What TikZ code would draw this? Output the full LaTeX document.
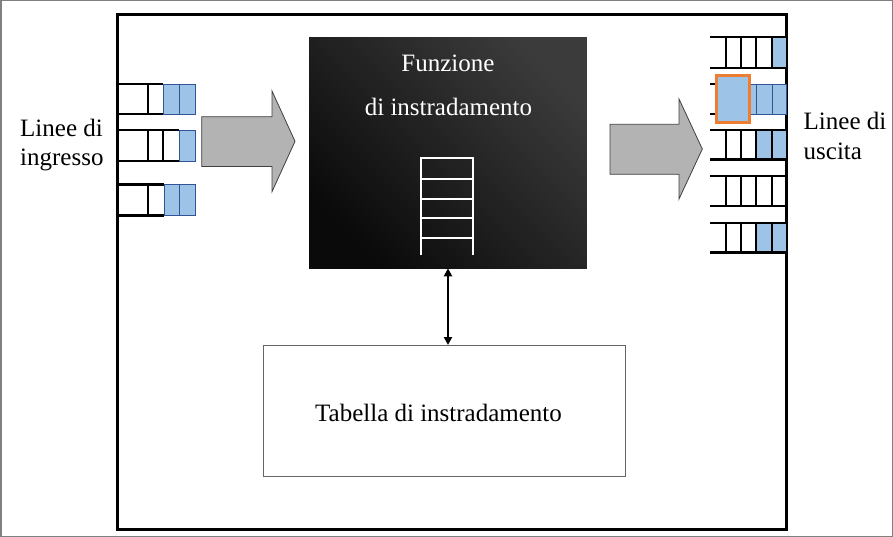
\documentclass[tikz,border=0pt]{standalone}
\usepackage{fontspec}
\setmainfont{Liberation Serif}
\usetikzlibrary{arrows.meta}
\definecolor{qblue}{RGB}{157,195,230}
\definecolor{qborder}{RGB}{47,85,151}
\definecolor{qorange}{RGB}{237,125,49}
\definecolor{agray}{RGB}{179,179,179}
\definecolor{aborder}{RGB}{64,64,64}
\definecolor{outer}{RGB}{128,128,128}
\begin{document}
\begin{tikzpicture}[x=1pt,y=-1pt,
  lbl/.style={font=\fontsize{25}{30}\selectfont, inner sep=0pt},
  qline/.style={line width=2.7pt, black},
  qdiv/.style={line width=2.7pt, black, line cap=rect},
  bluecell/.style={fill=qblue, draw=qborder, line width=0.9pt},
  bigarrow/.style={fill=agray, draw=aborder, line width=0.8pt, line join=miter},
  funbox/.style={rectangle, inner sep=0pt, outer sep=0pt, minimum width=277.7pt, minimum height=231pt,
    top color=black!77, bottom color=black!96, shading angle=-45},
  tabbox/.style={rectangle, draw=black!60, line width=1pt, fill=white, inner sep=0pt, outer sep=0pt,
    minimum width=361.7pt, minimum height=131pt},
  ladder/.style={draw=white, line width=2pt},
  dblarrow/.style={line width=2pt, {Triangle[width=8pt,length=8pt]}-{Triangle[width=8pt,length=8pt]}}
]
\useasboundingbox (0,0) rectangle (893,537);
% outer border
\draw[outer, line width=1.5pt] (0.75,0.75) rectangle (892.25,536.25);
% frame
\draw[line width=3pt, black] (117.7,15) rectangle (786.5,529);

% ---- left queues ----
% Q1
\draw[bluecell] (163,84) rectangle (179,114);
\draw[bluecell] (179,84) rectangle (195.5,114);
\draw[qline] (117,84) -- (163,84) (117,114) -- (163,114);
\draw[qdiv] (148,84) -- (148,114);
% Q2
\draw[bluecell] (179,130) rectangle (195.5,161);
\draw[qline] (117,130) -- (179,130) (117,161) -- (179,161);
\draw[qdiv] (148,130) -- (148,161) (163,130) -- (163,161);
% Q3
\draw[bluecell] (164,184.5) rectangle (179.5,215.5);
\draw[bluecell] (179.5,184.5) rectangle (195.5,215.5);
\draw[qline] (117,184.5) -- (164,184.5) (117,215.5) -- (164,215.5);
\draw[qdiv] (148,184.5) -- (148,215.5);

% ---- right queues ----
% R1
\fill[qblue] (772,37) rectangle (786,68);
\draw[qline] (710,37) -- (786,37) (710,68) -- (786,68);
\draw[qdiv] (726,37) -- (726,68) (741,37) -- (741,68) (756,37) -- (756,68) (772,37) -- (772,68);
% R2
\draw[qline] (710,84) -- (717,84) (710,114) -- (717,114);
\draw[bluecell] (749,84) rectangle (756,114);
\draw[bluecell] (756,84) rectangle (772,114);
\draw[bluecell] (772,84) rectangle (786,114);
\draw[fill=qblue, draw=qorange, line width=2.5pt] (716.7,75.7) rectangle (749.3,122.7);
% R3
\fill[qblue] (756,130) rectangle (786,159.5);
\draw[qline] (710,130) -- (786,130) (710,159.5) -- (786,159.5);
\draw[qdiv] (726,130) -- (726,159.5) (741,130) -- (741,159.5) (756,130) -- (756,159.5) (772,130) -- (772,159.5);
% R4
\draw[qline] (710,176) -- (786,176) (710,206) -- (786,206);
\draw[qdiv] (726,176) -- (726,206) (741,176) -- (741,206) (756,176) -- (756,206) (772,176) -- (772,206);
% R5
\fill[qblue] (756,223) rectangle (786,252.5);
\draw[qline] (710,223) -- (786,223) (710,252.5) -- (786,252.5);
\draw[qdiv] (726,223) -- (726,252.5) (741,223) -- (741,252.5) (756,223) -- (756,252.5) (772,223) -- (772,252.5);

% ---- big arrows ----
\draw[bigarrow] (201.7,116.7) -- (272,116.7) -- (272,91) -- (295,141.3) -- (272,191.7) -- (272,166.5) -- (201.7,166.5) -- cycle;
\draw[bigarrow] (610,124.3) -- (679,124.3) -- (679,99) -- (702.3,149) -- (679,199) -- (679,174.3) -- (610,174.3) -- cycle;

% ---- routing function box ----
\node[funbox] (fun) at (448,152.8) {};
\node[lbl, text=white, anchor=base] (f1) at (448,71.7) {Funzione};
\node[lbl, text=white, anchor=base] (f2) at (448.5,116) {di instradamento};
\draw[ladder] (421,255) -- (421,157.7) -- (473.3,157.7) -- (473.3,255);
\draw[ladder] (421,179.3) -- (473.3,179.3) (421,199.5) -- (473.3,199.5)
  (421,218.5) -- (473.3,218.5) (421,237.5) -- (473.3,237.5);

% ---- table ----
\node[tabbox] (tab) at (444.2,410.5) {};
\node[lbl, anchor=base] (tabtxt) at (438.5,421.7) {Tabella di instradamento};
\draw[dblarrow] (fun.south) -- (fun.south |- tab.north);

% ---- side labels ----
\node[lbl, anchor=base west] (in1) at (20,136.7) {Linee di};
\node[lbl, anchor=base west] (in2) at (20,165.7) {ingresso};
\node[lbl, anchor=base west] (out1) at (803.5,130) {Linee di};
\node[lbl, anchor=base west] (out2) at (803.5,159.5) {uscita};
\end{tikzpicture}
\end{document}
